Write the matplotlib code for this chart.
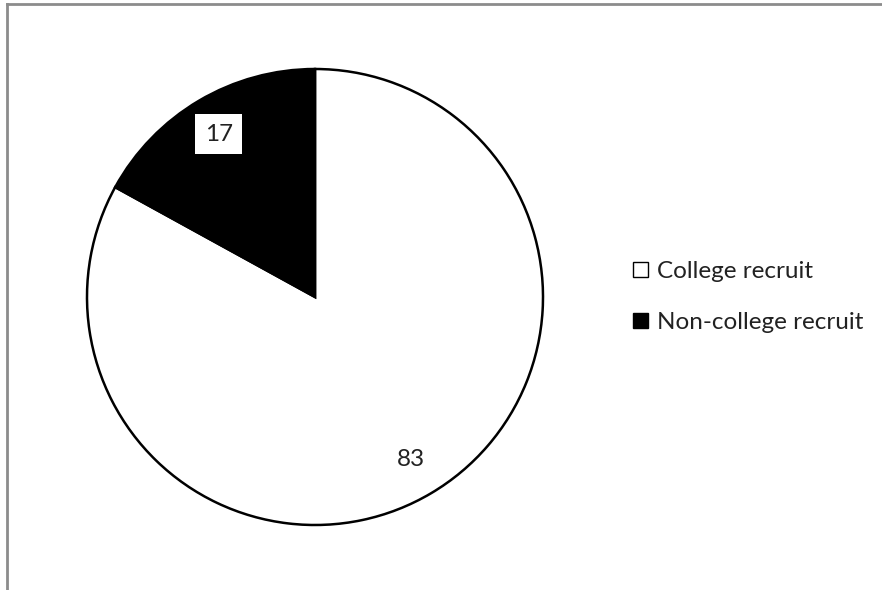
import matplotlib
matplotlib.use('Agg')
import matplotlib.pyplot as plt
from matplotlib.lines import Line2D

# data
labels = ['College recruit', 'Non-college recruit']
values = [83, 17]
colors = ['white', 'black']

plt.rcParams['font.family'] = ['Lato', 'DejaVu Sans']

W, H = 882, 590
fig = plt.figure(figsize=(W/100, H/100), dpi=100)

# pie centred at (315, 297) px, radius 228 px
cx, cy, r = 315, 297, 228
m = 1.01
ax = fig.add_axes([(cx-r*m)/W, (H-cy-r*m)/H, 2*r*m/W, 2*r*m/H])

wedges, texts, autotexts = ax.pie(values, colors=colors, startangle=90, counterclock=False,
	radius=1, autopct=lambda p: '%d' % round(p), pctdistance=0.83,
	wedgeprops=dict(edgecolor='black', linewidth=1.8),
	textprops=dict(fontsize=17.5, color='#222222'))
ax.set_xlim(-m, m)
ax.set_ylim(-m, m)
ax.axis('off')

# white box behind the label on the black slice
autotexts[1].set_bbox(dict(facecolor='white', edgecolor='none', pad=7))

leg = fig.legend(wedges, labels, loc='center left', bbox_to_anchor=(633/W, 1 - 297/H),
	frameon=False, fontsize=17.5, handlelength=0.6, handleheight=0.6,
	handletextpad=0.4, labelspacing=1.25, borderpad=0, borderaxespad=0)
for t in leg.get_texts():
	t.set_color('#222222')
for h in leg.legend_handles:
	h.set_edgecolor('black')
	h.set_linewidth(1.0)

# chart frame (top and left edges visible)
fig.add_artist(Line2D([6.5/W, 6.5/W], [0, 1 - 3.5/H], transform=fig.transFigure, color='#8c8c8c', lw=2))
fig.add_artist(Line2D([6.5/W, 1], [1 - 3.5/H, 1 - 3.5/H], transform=fig.transFigure, color='#8c8c8c', lw=2))

fig.savefig('out.png', dpi=100)
